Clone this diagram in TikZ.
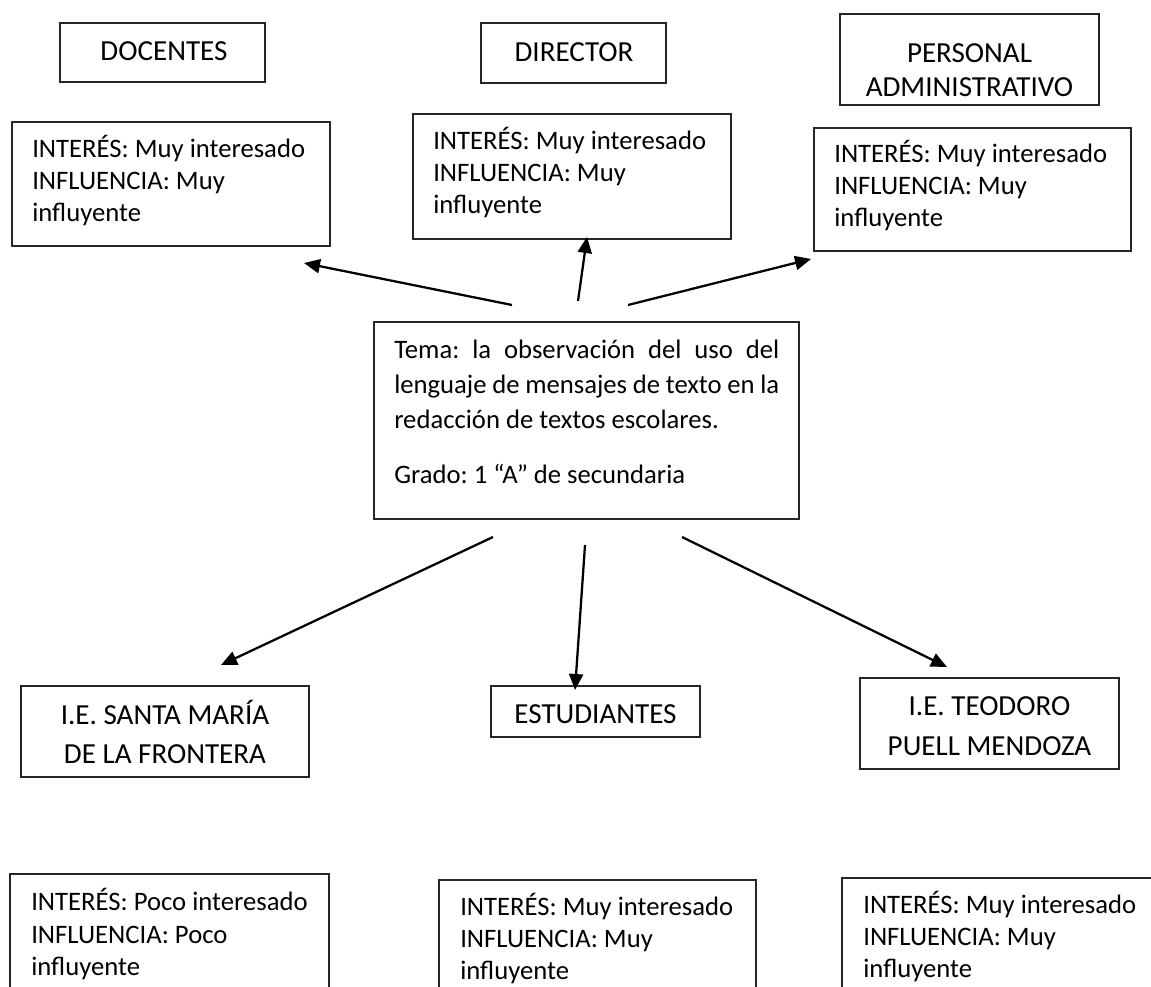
\documentclass[tikz,border=0pt]{standalone}
\usepackage{fontspec}
\setmainfont{Carlito}
\usetikzlibrary{arrows.meta}
\frenchspacing
\begin{document}
\begin{tikzpicture}[x=0.75pt,y=-0.75pt,
  box/.style={draw=black!85,line width=1pt,inner sep=0pt,rectangle},
  txt/.style={inner sep=0pt,font=\fontsize{20}{24}\selectfont,text=black},
  ctxt/.style={inner sep=0pt,font=\fontsize{21.8}{26}\selectfont,text=black,align=center},
  ltxt/.style={txt,align=left},
  conn/.style={line width=1.7pt,-{Triangle[length=12pt,width=10.5pt]}}]
\useasboundingbox (0,0) rectangle (1151,987);
\fill[white] (0,0) rectangle (1151,987);
\begin{scope}
\clip (0,0) rectangle (1151,987);
% top labels
\node[box,minimum width=205*0.75pt,minimum height=59*0.75pt] (doc) at (162.5,52.5) {};
\node[box,minimum width=185*0.75pt,minimum height=60*0.75pt] (dir) at (573.5,53) {};
\node[box,minimum width=259*0.75pt,minimum height=91*0.75pt] (per) at (969.5,59.5) {};
\node[ctxt,anchor=base] (doct) at (164,61) {DOCENTES};
\node[ctxt,anchor=base] (dirt) at (574,62) {DIRECTOR};
\node[ctxt,anchor=base] (pert1) at (969.5,63) {PERSONAL};
\node[ctxt,anchor=base] (pert2) at (969.5,97) {ADMINISTRATIVO};
% top interest boxes
\node[box,minimum width=318*0.75pt,minimum height=124*0.75pt] (i1) at (171,184) {};
\node[box,minimum width=318*0.75pt,minimum height=125*0.75pt] (i2) at (572,176.5) {};
\node[box,minimum width=317*0.75pt,minimum height=123*0.75pt] (i3) at (972.5,189.5) {};
\node[ltxt,anchor=base west] (i1a) at (32,158) {INTERÉS: Muy interesado};
\node[ltxt,anchor=base west] (i1b) at (32,190) {INFLUENCIA: Muy};
\node[ltxt,anchor=base west] (i1c) at (32,222) {influyente};
\node[ltxt,anchor=base west] (i2a) at (433,150) {INTERÉS: Muy interesado};
\node[ltxt,anchor=base west] (i2b) at (433,182) {INFLUENCIA: Muy};
\node[ltxt,anchor=base west] (i2c) at (433,214) {influyente};
\node[ltxt,anchor=base west] (i3a) at (834,163) {INTERÉS: Muy interesado};
\node[ltxt,anchor=base west] (i3b) at (834,195) {INFLUENCIA: Muy};
\node[ltxt,anchor=base west] (i3c) at (834,227) {influyente};
% central
\node[box,minimum width=425*0.75pt,minimum height=197*0.75pt] (tema) at (586.5,420.5) {};
\node[txt,anchor=base west,text width=385*0.75pt,align=justify,font=\fontsize{20}{26.25}\selectfont] (temat) at (394,358)
 {Tema: la observación del uso del\linebreak lenguaje de mensajes de texto en la\linebreak redacción de textos escolares.\par\vspace{15pt}Grado: 1 “A” de secundaria};
% bottom labels
\node[box,minimum width=288*0.75pt,minimum height=91*0.75pt] (sm) at (165,731.5) {};
\node[box,minimum width=209*0.75pt,minimum height=51*0.75pt] (est) at (595.5,711.5) {};
\node[box,minimum width=259*0.75pt,minimum height=91*0.75pt] (teo) at (989.5,723.5) {};
\node[ctxt,anchor=base] (smt1) at (165,724) {I.E. SANTA MARÍA};
\node[ctxt,anchor=base] (smt2) at (165,763) {DE LA FRONTERA};
\node[ctxt,anchor=base] (estt) at (595.5,723) {ESTUDIANTES};
\node[ctxt,anchor=base] (teot1) at (989.5,715) {I.E. TEODORO};
\node[ctxt,anchor=base] (teot2) at (989.5,755) {PUELL MENDOZA};
% bottom interest boxes
\node[box,minimum width=319*0.75pt,minimum height=140*0.75pt] (i4) at (169.5,944) {};
\node[box,minimum width=317*0.75pt,minimum height=140*0.75pt] (i5) at (597.5,950) {};
\node[box,minimum width=318*0.75pt,minimum height=140*0.75pt] (i6) at (1001,948) {};
\node[ltxt,anchor=base west] (i4a) at (31,910) {INTERÉS: Poco interesado};
\node[ltxt,anchor=base west] (i4b) at (31,943) {INFLUENCIA: Poco};
\node[ltxt,anchor=base west] (i4c) at (31,975) {influyente};
\node[ltxt,anchor=base west] (i5a) at (460,915) {INTERÉS: Muy interesado};
\node[ltxt,anchor=base west] (i5b) at (460,947) {INFLUENCIA: Muy};
\node[ltxt,anchor=base west] (i5c) at (460,979) {influyente};
\node[ltxt,anchor=base west] (i6a) at (863,913) {INTERÉS: Muy interesado};
\node[ltxt,anchor=base west] (i6b) at (863,945) {INFLUENCIA: Muy};
\node[ltxt,anchor=base west] (i6c) at (863,977) {influyente};
\end{scope}
% connectors
\coordinate (s1) at (512,305); \coordinate (e1) at (304,263);
\coordinate (s2) at (578,301); \coordinate (e2) at (587,237);
\coordinate (s3) at (628,305); \coordinate (e3) at (811,259);
\coordinate (s4) at (493,537); \coordinate (e4) at (221,665);
\coordinate (s5) at (585,545); \coordinate (e5) at (575,690);
\coordinate (s6) at (682,537); \coordinate (e6) at (947,667);
\draw[conn] (s1) -- (e1);
\draw[conn] (s2) -- (e2);
\draw[conn] (s3) -- (e3);
\draw[conn] (s4) -- (e4);
\draw[conn] (s5) -- (e5);
\draw[conn] (s6) -- (e6);
\end{tikzpicture}
\end{document}
